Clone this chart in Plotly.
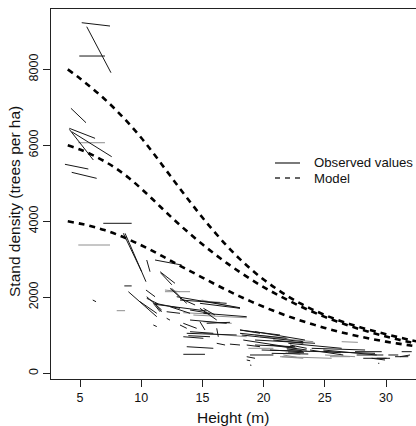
import plotly.graph_objects as go

# Height grid for the three model trajectories (m)
model_height = [4, 5, 6, 7, 8, 9, 10, 11, 12, 13, 14, 15, 16, 17, 18, 19, 20,
                21, 22, 23, 24, 25, 26, 27, 28, 29, 30, 31, 32, 33]
# Predicted stand density (trees per ha) for three initial densities
model_n8000 = [8000, 7760, 7500, 7220, 6910, 6570, 6200, 5790, 5360, 4930, 4510,
               4100, 3715, 3355, 3025, 2730, 2468, 2235, 2025, 1840, 1678, 1535,
               1410, 1300, 1202, 1112, 1028, 950, 875, 805]
model_n6000 = [6000, 5890, 5750, 5580, 5380, 5140, 4860, 4560, 4250, 3950, 3665,
               3395, 3140, 2900, 2675, 2465, 2270, 2090, 1922, 1765, 1620, 1485,
               1362, 1250, 1148, 1054, 968, 888, 815, 748]
model_n4000 = [4000, 3940, 3865, 3770, 3655, 3520, 3370, 3210, 3035, 2860, 2690,
               2520, 2350, 2188, 2032, 1886, 1750, 1622, 1502, 1392, 1290, 1195,
               1108, 1030, 958, 893, 834, 781, 733, 690]

# Observed plots: height and density at first and second measurement, plus tone
obs_h0 = [5.14, 5.55, 4.94, 4.26, 4.13, 4.13, 4.32, 4.86, 3.77, 4.32,
          6.90, 4.86, 6.04, 8.00, 8.54, 8.68, 10.45, 11.13, 11.54, 11.94,
          8.62, 8.95, 10.39, 10.45, 11.13, 10.99, 12.08, 11.94, 11.60, 12.35,
          12.49, 14.80, 9.90, 11.13, 12.90, 14.94, 14.26, 13.44, 14.80, 15.35,
          16.17, 13.72, 13.85, 15.08, 16.17, 17.25, 13.72, 13.44, 18.07, 18.62,
          18.62, 18.89, 10.45, 10.99, 13.17, 12.08, 13.99, 14.80, 13.17, 19.30,
          19.30, 19.30, 19.30, 19.84, 20.66, 21.48, 22.02, 26.38, 23.93, 24.75,
          25.02, 27.47, 28.83, 30.74, 31.28, 30.19, 29.36, 18.07, 18.34, 18.75,
          18.89, 18.62, 20.52, 21.61, 22.16, 20.79, 23.79, 25.42, 28.14, 18.07,
          18.21, 19.71, 11.27, 13.17, 14.80, 15.08, 13.99, 15.08, 21.88, 20.52,
          21.34, 24.88, 27.60, 29.24, 31.14, 12.35, 13.44, 15.08, 13.99, 13.44,
          21.90, 22.00, 21.80, 24.90]
obs_n0 = [9228, 9123, 8351, 6975, 6448, 6420, 6359, 6069, 5501, 5290,
          3948, 3377, 1929, 1648, 3685, 3685, 2982, 2982, 2674, 2148,
          2300, 2148, 2192, 1974, 1842, 1271, 1448, 2192, 2640, 2237,
          2237, 1903, 1885, 1815, 2016, 1929, 1534, 1316, 1358, 1316,
          1184, 1053, 990, 1053, 790, 768, 700, 500, 1140, 745,
          437, 218, 2016, 1842, 1974, 1621, 1666, 1711, 1271, 1095,
          1008, 876, 745, 613, 526, 437, 790, 832, 658, 569,
          482, 569, 395, 437, 569, 482, 263, 1053, 876, 658,
          482, 350, 613, 482, 745, 876, 613, 437, 395, 1140,
          1008, 963, 1771, 1929, 1842, 1579, 1403, 1358, 658, 745,
          437, 613, 482, 395, 437, 1753, 1595, 1711, 1095, 963,
          640, 560, 540, 580]
obs_h1 = [7.45, 7.53, 7.04, 5.49, 6.23, 6.09, 7.59, 7.04, 5.68, 6.36,
          9.22, 7.45, 6.31, 8.68, 10.04, 10.39, 10.72, 13.31, 12.76, 13.99,
          9.22, 11.27, 11.13, 11.40, 13.17, 11.27, 12.35, 13.17, 12.50, 13.72,
          13.17, 16.44, 11.27, 15.35, 18.07, 18.07, 18.62, 14.53, 15.21, 17.25,
          16.30, 17.80, 15.62, 18.62, 16.85, 18.07, 15.89, 15.21, 19.71, 19.71,
          19.30, 19.00, 11.67, 11.54, 14.40, 13.17, 15.62, 16.17, 13.72, 23.38,
          22.02, 24.20, 22.57, 24.75, 23.65, 25.56, 26.38, 27.70, 28.29, 29.10,
          27.47, 29.65, 29.92, 31.82, 32.10, 31.00, 29.45, 21.88, 22.70, 20.80,
          20.80, 18.90, 23.24, 22.70, 23.52, 23.24, 26.51, 27.06, 30.33, 21.34,
          23.24, 24.06, 11.67, 16.98, 18.07, 18.62, 16.98, 17.39, 23.79, 23.52,
          23.24, 29.24, 29.78, 30.05, 31.96, 13.99, 15.62, 16.03, 15.89, 15.08,
          23.10, 23.30, 23.00, 26.30]
obs_n1 = [9141, 7912, 8351, 6596, 6185, 5614, 5701, 6069, 5377, 5132,
          3948, 3377, 1885, 1648, 2674, 2411, 2674, 2850, 2369, 2148,
          2300, 1490, 2016, 1824, 1711, 1230, 1400, 2148, 2330, 1842,
          2016, 1869, 1579, 1640, 1726, 1711, 1463, 1184, 1140, 1342,
          963, 1008, 963, 963, 745, 745, 658, 500, 1053, 700,
          395, 210, 1666, 1621, 1798, 1579, 1579, 1403, 1184, 876,
          921, 790, 700, 569, 508, 395, 658, 815, 613, 526,
          437, 569, 350, 437, 569, 482, 263, 921, 658, 658,
          482, 330, 569, 421, 658, 790, 482, 437, 395, 1008,
          832, 832, 1621, 1842, 1711, 1490, 1316, 1316, 569, 613,
          395, 482, 482, 395, 482, 1579, 1561, 1534, 1053, 921,
          600, 540, 500, 540]
obs_tone = ["k", "k", "k", "k", "k", "k", "k", "g", "k", "k",
            "k", "g", "k", "g", "k", "k", "k", "k", "k", "g",
            "k", "k", "k", "k", "k", "k", "k", "g", "k", "k",
            "k", "g", "k", "k", "k", "g", "g", "k", "k", "k",
            "k", "k", "k", "g", "k", "k", "k", "k", "k", "k",
            "k", "k", "k", "k", "k", "k", "k", "k", "k", "k",
            "g", "k", "k", "k", "k", "g", "k", "g", "k", "k",
            "g", "k", "k", "k", "k", "k", "k", "k", "k", "g",
            "k", "k", "k", "g", "k", "k", "k", "g", "k", "k",
            "k", "g", "k", "k", "k", "k", "k", "g", "g", "k",
            "g", "k", "k", "k", "k", "k", "g", "k", "k", "k",
            "k", "k", "g", "k"]

tone_colour = {"k": "#161616", "g": "#8e8e8e"}

fig = go.Figure()

# One trace per tone; each plot is a two-point segment separated by None
for tone in ["g", "k"]:
    xs, ys = [], []
    for h0, n0, h1, n1, t in zip(obs_h0, obs_n0, obs_h1, obs_n1, obs_tone):
        if t == tone:
            xs += [h0, h1, None]
            ys += [n0, n1, None]
    fig.add_trace(go.Scatter(x=xs, y=ys, mode="lines", showlegend=False,
                             line=dict(color=tone_colour[tone], width=1),
                             hoverinfo="skip"))

for curve in [model_n8000, model_n6000, model_n4000]:
    fig.add_trace(go.Scatter(x=model_height, y=curve, mode="lines",
                             showlegend=False, line_shape="spline",
                             line=dict(color="black", width=2.6, dash="6px,5px")))

axis_font = dict(family="Liberation Sans, Arial, sans-serif", size=12.5, color="#111")

fig.update_layout(
    width=416, height=426,
    margin=dict(l=51, r=0, t=9, b=47),
    paper_bgcolor="white", plot_bgcolor="white",
    font=axis_font,
    xaxis=dict(range=[2.63, 32.45], tickvals=[5, 10, 15, 20, 25, 30],
               ticks="outside", ticklen=7, tickcolor="#222", tickwidth=1,
               showline=True, linecolor="#222", linewidth=1, mirror=True,
               showgrid=False, zeroline=False, tickfont=axis_font),
    yaxis=dict(range=[-150, 9589], tickvals=[0, 2000, 4000, 6000, 8000],
               ticks="outside", ticklen=7, tickcolor="#222", tickwidth=1,
               showline=True, linecolor="#222", linewidth=1,
               showgrid=False, zeroline=False, tickangle=-90, tickfont=axis_font),
)

title_font = dict(family="Liberation Sans, Arial, sans-serif", size=15.5, color="#111")
fig.add_annotation(text="Height (m)", xref="paper", yref="paper", x=0.499, y=0,
                   xanchor="center", yanchor="middle", yshift=-38.5,
                   showarrow=False, font=title_font)
fig.add_annotation(text="Stand density (trees per ha)", xref="paper", yref="paper",
                   x=0, y=0.5, xshift=-37, yshift=-8, textangle=-90,
                   xanchor="center", yanchor="middle", showarrow=False, font=title_font)

# Legend key
legend_font = dict(family="Liberation Sans, Arial, sans-serif", size=13.2, color="#111")
fig.add_shape(type="line", xref="paper", yref="paper", x0=0.6137, x1=0.6822,
              y0=0.5838, y1=0.5838, line=dict(color="#333", width=1.3))
fig.add_shape(type="line", xref="paper", yref="paper", x0=0.6137, x1=0.6822,
              y0=0.5432, y1=0.5432, line=dict(color="#333", width=1.3, dash="5px,5px"))
fig.add_annotation(text="Observed values", xref="paper", yref="paper", x=0.714,
                   y=0.5838, xanchor="left", yanchor="middle", showarrow=False,
                   font=legend_font)
fig.add_annotation(text="Model", xref="paper", yref="paper", x=0.714,
                   y=0.5432, xanchor="left", yanchor="middle", showarrow=False,
                   font=legend_font)

fig.write_html("out.html")
